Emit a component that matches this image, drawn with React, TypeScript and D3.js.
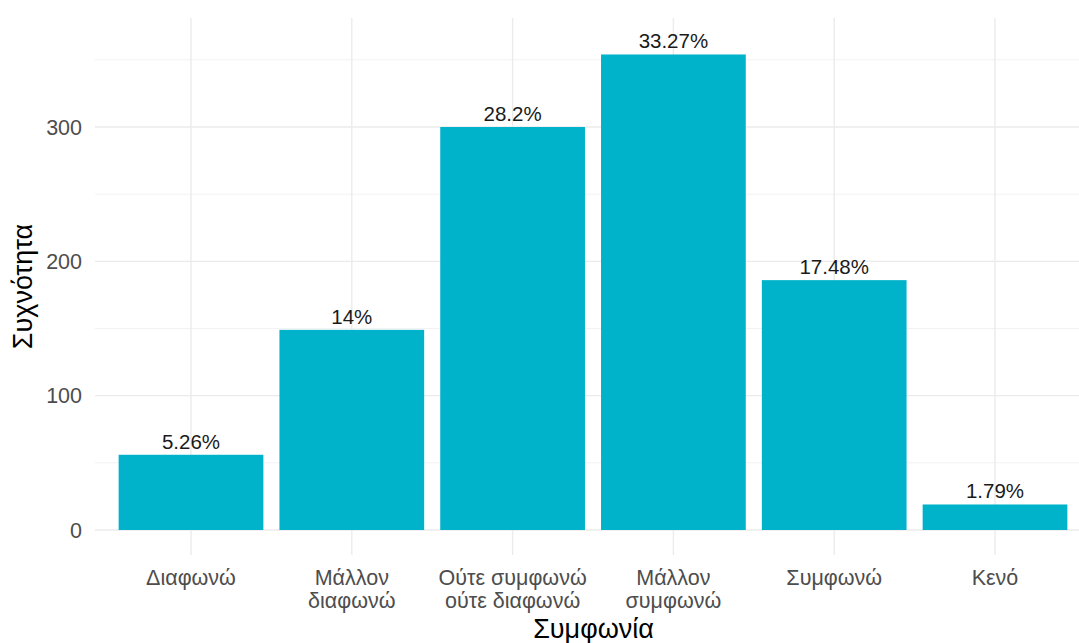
import React from "react";
import * as d3 from "d3";

const categories = [
  "Διαφωνώ",
  "Μάλλον\nδιαφωνώ",
  "Ούτε συμφωνώ\nούτε διαφωνώ",
  "Μάλλον\nσυμφωνώ",
  "Συμφωνώ",
  "Κενό",
];
const counts = [56, 149, 300, 354, 186, 19];
const percentLabels = ["5.26%", "14%", "28.2%", "33.27%", "17.48%", "1.79%"];
const yTicks = [0, 100, 200, 300];
const yMinorTicks = [50, 150, 250, 350];

const W = 1079;
const H = 643;
const panel = { left: 95, right: 1092, top: 18, bottom: 555 };
const BAR = "#00b2ca";

export default function App() {
  const x = d3
    .scaleBand<string>()
    .domain(categories)
    .range([110.6, 1075.4])
    .paddingInner(0.1)
    .paddingOuter(0.05);
  const y = d3.scaleLinear().domain([0, 300]).range([530, 127]);
  const font = "'Liberation Sans', Arial, Helvetica, sans-serif";

  return (
    <svg
      width={W}
      height={H}
      style={{ position: "absolute", left: 0, top: 0, background: "#fff" }}
      fontFamily={font}
    >
      {/* minor grid */}
      {yMinorTicks.map((t) => (
        <line key={"mn" + t} x1={panel.left} x2={panel.right} y1={y(t)} y2={y(t)} stroke="#f2f2f2" strokeWidth={1} />
      ))}
      {/* major grid */}
      {yTicks.map((t) => (
        <line key={"mj" + t} x1={panel.left} x2={panel.right} y1={y(t)} y2={y(t)} stroke="#ebebeb" strokeWidth={1.4} />
      ))}
      {categories.map((c) => {
        const cx = (x(c) as number) + x.bandwidth() / 2;
        return (
          <line key={"vg" + c} x1={cx} x2={cx} y1={panel.top} y2={panel.bottom} stroke="#ebebeb" strokeWidth={1.4} />
        );
      })}
      {/* bars */}
      {categories.map((c, i) => (
        <rect
          key={"b" + c}
          x={x(c) as number}
          y={y(counts[i])}
          width={x.bandwidth()}
          height={y(0) - y(counts[i])}
          fill={BAR}
        />
      ))}
      {/* bar labels */}
      {categories.map((c, i) => (
        <text
          key={"l" + c}
          x={(x(c) as number) + x.bandwidth() / 2}
          y={y(counts[i]) - 6}
          textAnchor="middle"
          fontSize={20.5}
          fill="#1a1a1a"
        >
          {percentLabels[i]}
        </text>
      ))}
      {/* y tick labels */}
      {yTicks.map((t) => (
        <text key={"yt" + t} x={82} y={y(t)} dy="0.35em" textAnchor="end" fontSize={21.5} fill="#4d4d4d">
          {t}
        </text>
      ))}
      {/* x tick labels */}
      {categories.map((c) => {
        const cx = (x(c) as number) + x.bandwidth() / 2;
        return (
          <text key={"xt" + c} x={cx} y={585} textAnchor="middle" fontSize={21.5} fill="#4d4d4d">
            {c.split("\n").map((line, j) => (
              <tspan key={j} x={cx} dy={j === 0 ? 0 : 23}>
                {line}
              </tspan>
            ))}
          </text>
        );
      })}
      {/* axis titles */}
      <text x={(panel.left + panel.right) / 2} y={638} textAnchor="middle" fontSize={27} fill="#000">
        Συμφωνία
      </text>
      <text
        transform={`translate(32, ${(panel.top + panel.bottom) / 2}) rotate(-90)`}
        textAnchor="middle"
        fontSize={27}
        fill="#000"
      >
        Συχνότητα
      </text>
    </svg>
  );
}
